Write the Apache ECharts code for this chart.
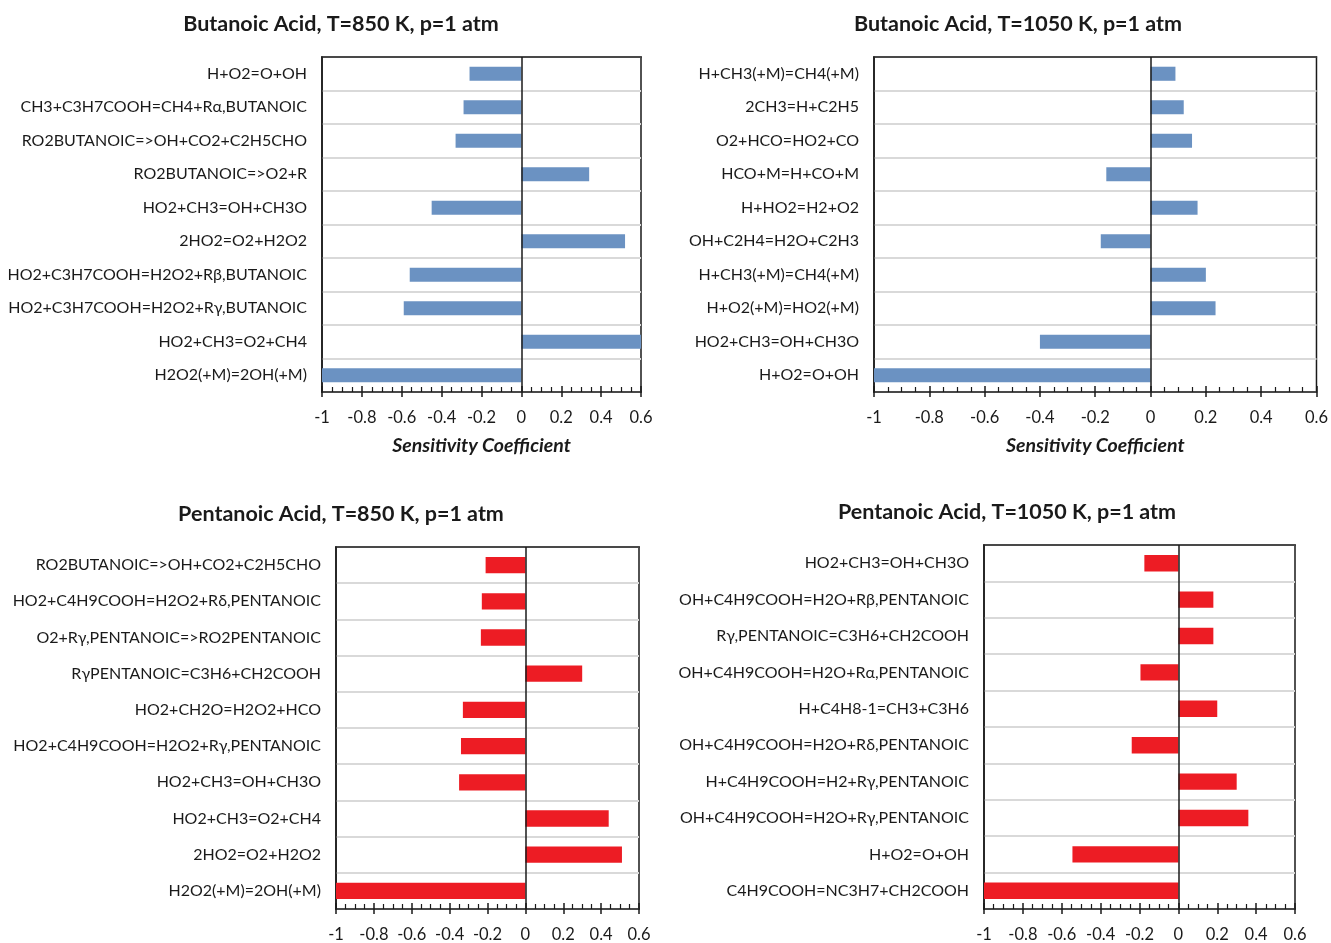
<!DOCTYPE html>
<html>
<head>
<meta charset="utf-8">
<script src="https://cdn.jsdelivr.net/npm/echarts@6/dist/echarts.min.js"></script>
<style>html,body{margin:0;padding:0;background:#fff}#c{width:1331px;height:943px}</style>
</head>
<body>
<div id="c"></div>
<script>
// ---- Data (categories listed top to bottom) ----
const titles = [
  'Butanoic Acid, T=850 K, p=1 atm',
  'Butanoic Acid, T=1050 K, p=1 atm',
  'Pentanoic Acid, T=850 K, p=1 atm',
  'Pentanoic Acid, T=1050 K, p=1 atm'
];
const xTickValues = [-1, -0.8, -0.6, -0.4, -0.2, 0, 0.2, 0.4, 0.6];
const axisName = 'Sensitivity Coefficient';

const cats1 = ['H+O2=O+OH','CH3+C3H7COOH=CH4+Rα,BUTANOIC','RO2BUTANOIC=>OH+CO2+C2H5CHO','RO2BUTANOIC=>O2+R','HO2+CH3=OH+CH3O','2HO2=O2+H2O2','HO2+C3H7COOH=H2O2+Rβ,BUTANOIC','HO2+C3H7COOH=H2O2+Rγ,BUTANOIC','HO2+CH3=O2+CH4','H2O2(+M)=2OH(+M)'];
const vals1 = [-0.26,-0.29,-0.33,0.34,-0.45,0.52,-0.56,-0.59,0.6,-1.0];

const cats2 = ['H+CH3(+M)=CH4(+M)','2CH3=H+C2H5','O2+HCO=HO2+CO','HCO+M=H+CO+M','H+HO2=H2+O2','OH+C2H4=H2O+C2H3','H+CH3(+M)=CH4(+M)','H+O2(+M)=HO2(+M)','HO2+CH3=OH+CH3O','H+O2=O+OH'];
const vals2 = [0.09,0.12,0.15,-0.16,0.17,-0.18,0.20,0.235,-0.40,-1.0];

const cats3 = ['RO2BUTANOIC=>OH+CO2+C2H5CHO','HO2+C4H9COOH=H2O2+Rδ,PENTANOIC','O2+Rγ,PENTANOIC=>RO2PENTANOIC','RγPENTANOIC=C3H6+CH2COOH','HO2+CH2O=H2O2+HCO','HO2+C4H9COOH=H2O2+Rγ,PENTANOIC','HO2+CH3=OH+CH3O','HO2+CH3=O2+CH4','2HO2=O2+H2O2','H2O2(+M)=2OH(+M)'];
const vals3 = [-0.21,-0.23,-0.235,0.30,-0.33,-0.34,-0.35,0.44,0.51,-1.0];

const cats4 = ['HO2+CH3=OH+CH3O','OH+C4H9COOH=H2O+Rβ,PENTANOIC','Rγ,PENTANOIC=C3H6+CH2COOH','OH+C4H9COOH=H2O+Rα,PENTANOIC','H+C4H8-1=CH3+C3H6','OH+C4H9COOH=H2O+Rδ,PENTANOIC','H+C4H9COOH=H2+Rγ,PENTANOIC','OH+C4H9COOH=H2O+Rγ,PENTANOIC','H+O2=O+OH','C4H9COOH=NC3H7+CH2COOH'];
const vals4 = [-0.175,0.18,0.18,-0.195,0.20,-0.24,0.30,0.36,-0.545,-1.0];

// ---- Layout ----
const FONT = 'Lato';
const panels = [
  {cats: cats1, vals: vals1, color: '#6b92c2', grid: {left: 322, top: 57, width: 319, height: 335}, title: {x: 336, y: 8}, showName: true, barW: '42%'},
  {cats: cats2, vals: vals2, color: '#6b92c2', grid: {left: 874, top: 57, width: 443, height: 335}, title: {x: 1013, y: 8}, showName: true, barW: '42%'},
  {cats: cats3, vals: vals3, color: '#ed1c24', grid: {left: 336, top: 547, width: 303, height: 365}, title: {x: 336, y: 498}, showName: false, barW: '45%'},
  {cats: cats4, vals: vals4, color: '#ed1c24', grid: {left: 984, top: 545, width: 311, height: 367}, title: {x: 1002, y: 496}, showName: false, barW: '45%'}
];

const option = {
  animation: false,
  backgroundColor: '#fff',
  title: [], grid: [], xAxis: [], yAxis: [], series: []
};

panels.forEach((p, i) => {
  option.title.push({
    text: titles[i], left: p.title.x, top: p.title.y, textAlign: 'center',
    textStyle: {fontFamily: FONT, fontWeight: 'bold', fontSize: 21.5, color: '#1a1a1a'}
  });
  option.grid.push(Object.assign({show: true, borderColor: '#1a1a1a', borderWidth: 1.5, backgroundColor: 'transparent', containLabel: false}, p.grid));
  // main x axis: labels + outward major ticks
  option.xAxis.push({
    type: 'value', gridIndex: i, min: -1, max: 0.6, interval: 0.2,
    axisLine: {show: true, lineStyle: {color: '#1a1a1a', width: 1.5}},
    axisTick: {show: true, inside: false, length: 5, lineStyle: {color: '#1a1a1a', width: 1.5}},
    splitLine: {show: false},
    axisLabel: {fontFamily: FONT, fontSize: 16.5, color: '#1a1a1a', margin: 17,
      formatter: v => { const t = xTickValues.find(x => Math.abs(x - v) < 1e-9); return t === undefined ? '' : String(t); }},
    name: p.showName ? axisName : '', nameLocation: 'middle', nameGap: 44,
    nameTextStyle: {fontFamily: FONT, fontWeight: 'bold', fontStyle: 'italic', fontSize: 19.5, color: '#1a1a1a'}
  });
  // secondary x axis: inward major + minor ticks
  option.xAxis.push({
    type: 'value', gridIndex: i, min: -1, max: 0.6, interval: 0.2, position: 'bottom',
    axisLine: {show: false},
    axisTick: {show: true, inside: true, length: 6, lineStyle: {color: '#1a1a1a', width: 1.5}},
    minorTick: {show: true, splitNumber: 4, length: 5, lineStyle: {color: '#1a1a1a', width: 1.2}},
    axisLabel: {show: false}, splitLine: {show: false}
  });
  // top border axis
  option.xAxis.push({
    type: 'value', gridIndex: i, min: -1, max: 0.6, interval: 0.2, position: 'top', z: 5,
    axisLine: {show: true, lineStyle: {color: '#1a1a1a', width: 1.5}},
    axisTick: {show: false}, axisLabel: {show: false}, splitLine: {show: false}
  });
  option.yAxis.push({
    type: 'category', gridIndex: i, data: p.cats, inverse: true,
    axisLine: {show: true, onZero: false, lineStyle: {color: '#1a1a1a', width: 1.5}},
    axisTick: {show: false},
    splitLine: {show: true, lineStyle: {color: '#d9d9d9', width: 2}},
    axisLabel: {fontFamily: FONT, fontSize: 16, color: '#1a1a1a', margin: 15, interval: 0}
  });
  option.series.push({
    type: 'bar', xAxisIndex: i * 3, yAxisIndex: i, data: p.vals, barWidth: p.barW,
    itemStyle: {color: p.color},
    markLine: {silent: true, symbol: 'none', label: {show: false},
      lineStyle: {color: '#1a1a1a', width: 1.5, type: 'solid'}, data: [{xAxis: 0}]}
  });
});

const chart = echarts.init(document.getElementById('c'), null, {renderer: 'canvas'});
chart.setOption(option);
</script>
</body>
</html>
